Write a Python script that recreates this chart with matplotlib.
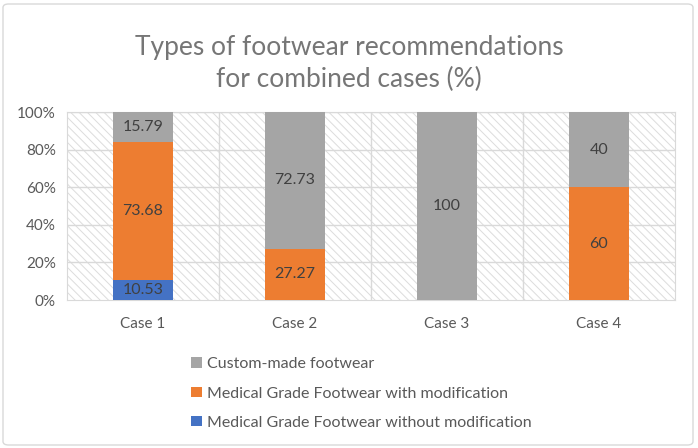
import numpy as np
import matplotlib.pyplot as plt
from matplotlib.patches import Rectangle, FancyBboxPatch

plt.rcParams['font.family'] = ['Lato', 'DejaVu Sans']
plt.rcParams['hatch.linewidth'] = 0.7

cases = ["Case 1", "Case 2", "Case 3", "Case 4"]
without_mod = [10.53, 0, 0, 0]
with_mod = [73.68, 27.27, 0, 60]
custom = [15.79, 72.73, 100, 40]

series = [
    ("Medical Grade Footwear without modification", without_mod, "#4472C4"),
    ("Medical Grade Footwear with modification", with_mod, "#ED7D31"),
    ("Custom-made footwear", custom, "#A5A5A5"),
]

fig = plt.figure(figsize=(6.98, 4.48), dpi=100)
# outer chart border
fig.patches.append(FancyBboxPatch((3 / 698, 3 / 448), 690 / 698, 441 / 448,
                                  boxstyle="round,pad=0,rounding_size=0.008",
                                  transform=fig.transFigure, facecolor="white",
                                  edgecolor="#D9D9D9", linewidth=1, zorder=-10))

ax = fig.add_axes([67 / 698, 1 - 300 / 448, 608 / 698, 188 / 448])
ax.set_facecolor("white")
# hatched plot area
ax.add_patch(Rectangle((0, 0), 1, 1, transform=ax.transAxes, facecolor="white",
                       edgecolor="#DCDCDC", hatch="\\\\\\\\", linewidth=0, zorder=0))

x = np.arange(len(cases))
bottom = np.zeros(len(cases))
handles = []
for name, vals, color in series:
    vals = np.array(vals, dtype=float)
    b = ax.bar(x, vals, bottom=bottom, width=0.4, color=color, label=name, zorder=3)
    handles.append(b)
    for xi, v, bt in zip(x, vals, bottom):
        if v > 0:
            ax.text(xi, bt + v / 2, f"{v:g}", ha="center", va="center",
                    fontsize=11.5, color="#404040", zorder=4)
    bottom += vals

ax.set_xlim(-0.5, len(cases) - 0.5)
ax.set_ylim(0, 100)
ax.set_yticks(np.arange(0, 101, 20))
ax.set_yticklabels([f"{v}%" for v in range(0, 101, 20)])
ax.set_xticks(x)
ax.set_xticklabels(cases)
ax.tick_params(length=0, labelsize=11, colors="#595959", pad=8)
ax.tick_params(axis="x", pad=12)

for v in range(20, 101, 20):
    ax.axhline(v, color="#D9D9D9", linewidth=1, zorder=1)
for v in np.arange(0.5, len(cases) - 0.5, 1):
    ax.axvline(v, color="#D9D9D9", linewidth=1, zorder=1)
for s in ax.spines.values():
    s.set_color("#D9D9D9")

fig.text(0.5, 1 - 47 / 448, "Types of footwear recommendations", ha="center",
         va="center", fontsize=19, color="#767676")
fig.text(0.5, 1 - 79 / 448, "for combined cases (%)", ha="center",
         va="center", fontsize=19, color="#767676")

leg = fig.legend(handles[::-1], [s[0] for s in series][::-1],
                 loc="upper left", bbox_to_anchor=(177 / 698, 1 - 343 / 448),
                 frameon=False, fontsize=11.5, labelcolor="#595959",
                 handlelength=0.65, handleheight=0.65, handletextpad=0.35,
                 labelspacing=0.95)

fig.savefig("out.png", dpi=100)
